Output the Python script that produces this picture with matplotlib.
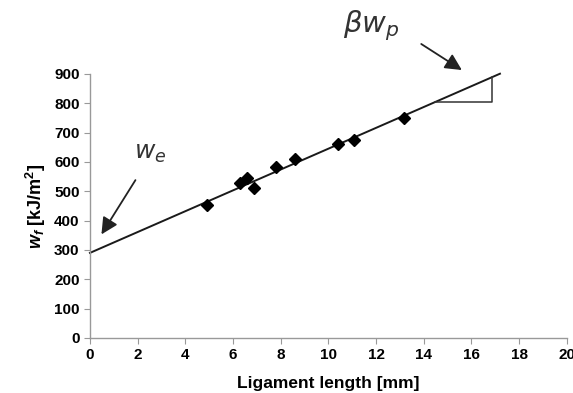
import numpy as np
import matplotlib.pyplot as plt

plt.rcParams['font.family'] = ['Liberation Sans', 'DejaVu Sans']
plt.rcParams['mathtext.fontset'] = 'custom'
plt.rcParams['mathtext.it'] = 'Liberation Sans:bold:italic'
plt.rcParams['mathtext.rm'] = 'Liberation Sans:bold'

# measured points
lig_len = [4.9, 6.3, 6.6, 6.88, 7.8, 8.6, 10.4, 11.07, 13.17]
wf = [453, 529, 546, 512, 584, 611, 662, 673, 750]

# linear fit  wf = we + beta*wp * l
we = 290
slope = 35.5
fit_x = np.array([0, 17.2])
fit_y = we + slope * fit_x

# slope triangle
tri_x = [14.47, 16.87, 16.87]
tri_y = [we + slope * 14.47, we + slope * 14.47, we + slope * 16.87]

fig = plt.figure(figsize=(5.73, 3.93), dpi=100)
ax = fig.add_axes([0.157, 0.14, 0.832, 0.672])

ax.plot(fit_x, fit_y, color='#1a1a1a', lw=1.4, clip_on=False, zorder=2)
ax.plot(tri_x, tri_y, color='#333333', lw=1.1, zorder=2)
ax.plot(lig_len, wf, 'D', color='black', markersize=6.5, zorder=3)

ax.set_xlim(0, 20)
ax.set_ylim(0, 900)
ax.set_xticks(range(0, 21, 2))
ax.set_yticks(range(0, 901, 100))

for s in ['top', 'right']:
    ax.spines[s].set_visible(False)
for s in ['left', 'bottom']:
    ax.spines[s].set_color('#999999')
    ax.spines[s].set_linewidth(1)
ax.tick_params(axis='both', colors='#999999', labelcolor='black', length=4,
               labelsize=11)
for lbl in ax.get_xticklabels() + ax.get_yticklabels():
    lbl.set_fontweight('bold')

ax.set_xlabel('Ligament length [mm]', fontsize=12.5, fontweight='bold', labelpad=10)
ax.set_ylabel(r'$w_f$ [kJ/m$^2$]', fontsize=13, fontweight='bold', labelpad=4)

arrow = dict(arrowstyle='-|>,head_length=1.0,head_width=0.5',
             color='#222222', lw=1.3)
ax.annotate('', xy=(0.42, 345), xytext=(1.97, 546),
            arrowprops=arrow, annotation_clip=False)
ax.text(1.85, 630, r'$w_e$', fontsize=18, color='#333333',
        math_fontfamily='dejavusans', va='center')

ax.annotate('', xy=(15.7, 908), xytext=(13.8, 1007),
            arrowprops=arrow, annotation_clip=False)
ax.text(10.6, 1065, r'$\beta w_p$', fontsize=21, color='#333333',
        math_fontfamily='dejavusans', va='center', clip_on=False)

fig.savefig('out.png', dpi=100)
